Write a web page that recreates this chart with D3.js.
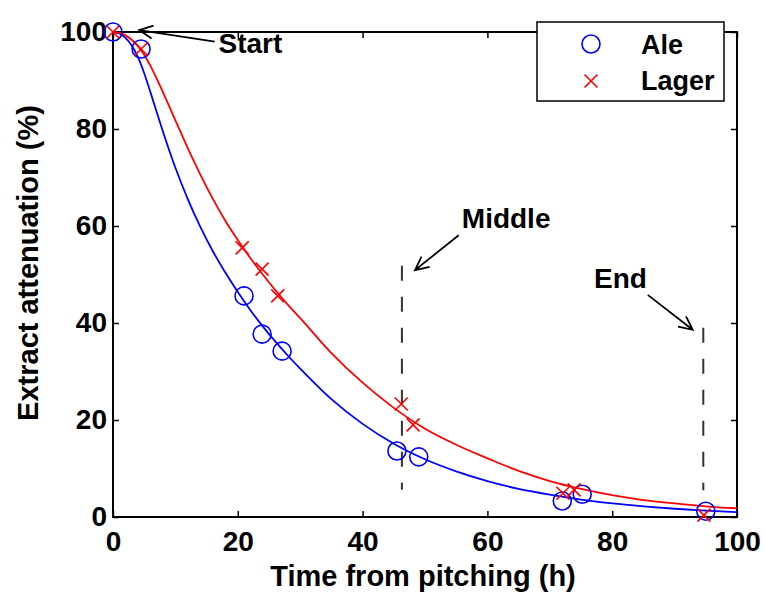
<!DOCTYPE html>
<html>
<head>
<meta charset="utf-8">
<script src="https://cdn.jsdelivr.net/npm/d3@7"></script>
<style>
  body { margin: 0; background: #fff; }
  text { font-family: "Liberation Sans", Arial, sans-serif; font-weight: bold; fill: #000; }
</style>
</head>
<body>
<svg id="chart" width="765" height="595"></svg>
<script>
// measured points
const aleTime = [0, 4.5, 21, 23.9, 27.1, 45.5, 49, 72, 75.2, 95];
const aleAtt = [100, 96.5, 45.6, 37.7, 34.2, 13.6, 12.4, 3.3, 4.7, 1.2];
const lagerTime = [0, 4.5, 20.7, 23.9, 26.4, 46.2, 48.1, 72.1, 73.9, 94.7];
const lagerAtt = [100, 96.5, 55.5, 51.1, 45.6, 23.3, 19, 4.9, 5.6, 0.4];

// fitted curves
const fitTime = [0, 1, 2, 3, 4, 5, 6, 7, 8, 10, 12, 14, 16, 18, 20, 22, 24, 26, 28, 30,
  35, 40, 45, 50, 55, 60, 65, 70, 75, 80, 85, 90, 95, 100];
const aleFit = [100, 99.7, 98.8, 97.2, 94.8, 91.5, 87.6, 83.5, 79.5, 72, 65.5, 59.8, 54.8, 50.4, 46.4, 42.7, 39.3, 36.2, 33.3, 30.6,
  24.3, 19.2, 15.1, 11.9, 9.4, 7.4, 5.8, 4.6, 3.6, 2.8, 2.2, 1.7, 1.3, 1.0];
const lagerFit = [100, 99.8, 99.3, 98.4, 97.1, 95.3, 93, 90.4, 87.6, 81.8, 76, 70.6, 65.6, 61.1, 57.1, 53.4, 50, 46.8, 43.8, 41,
  33.8, 27.7, 22.5, 18.2, 14.9, 12.1, 9.5, 7.4, 5.8, 4.5, 3.5, 2.8, 2.2, 1.8];

const xTicks = [0, 20, 40, 60, 80, 100];
const yTicks = [0, 20, 40, 60, 80, 100];

// annotations in data units
const notes = [
  { label: "Start", tx: 16.9, ty: 95.7, from: [16.3, 98], to: [4.2, 100.4] },
  { label: "Middle", tx: 55.9, ty: 59.5, from: [55.4, 58.1], to: [48.4, 50.9] },
  { label: "End", tx: 77.1, ty: 47.2, from: [85.7, 45.8], to: [92.9, 38.6] }
];
const markerLines = [
  { x: 46.3, y0: 51.8, y1: 5.6 },
  { x: 94.6, y0: 39, y1: 5.5 }
];

const svg = d3.select("#chart");
const pl = 113, pr = 737, pt = 32, pb = 517;

const x = d3.scaleLinear().domain([0, 100]).range([pl, pr]);
const y = d3.scaleLinear().domain([0, 100]).range([pb, pt]);

// axes with inward ticks
svg.append("g").attr("transform", `translate(0,${pb})`)
  .call(d3.axisBottom(x).tickValues(xTicks).tickSizeInner(-6).tickSizeOuter(0).tickPadding(14));
svg.append("g").attr("transform", `translate(${pl},0)`)
  .call(d3.axisLeft(y).tickValues(yTicks).tickSizeInner(-6).tickSizeOuter(0).tickPadding(6));
svg.append("g").attr("transform", `translate(0,${pt})`)
  .call(d3.axisTop(x).tickValues(xTicks).tickSizeInner(-6).tickSizeOuter(0).tickFormat(""));
svg.append("g").attr("transform", `translate(${pr},0)`)
  .call(d3.axisRight(y).tickValues(yTicks).tickSizeInner(-6).tickSizeOuter(0).tickFormat(""));

svg.selectAll(".domain").remove();
svg.selectAll(".tick line").attr("stroke", "#000").attr("stroke-width", 1.5);
svg.selectAll(".tick text").style("font-size", "28px").attr("fill", "#000");

svg.append("rect")
  .attr("x", pl).attr("y", pt)
  .attr("width", pr - pl).attr("height", pb - pt)
  .attr("fill", "none").attr("stroke", "#000").attr("stroke-width", 2);

// axis titles
svg.append("text")
  .attr("x", (pl + pr) / 2 - 2).attr("y", 586)
  .attr("text-anchor", "middle")
  .style("font-size", "29px")
  .text("Time from pitching (h)");
svg.append("text")
  .attr("transform", "translate(38,263) rotate(-90)")
  .attr("text-anchor", "middle")
  .style("font-size", "29px")
  .text("Extract attenuation (%)");

// fitted curves
const line = d3.line().curve(d3.curveMonotoneX);
svg.append("path")
  .attr("d", line(fitTime.map((t, i) => [x(t), y(aleFit[i])])))
  .attr("fill", "none").attr("stroke", "#0000ff").attr("stroke-width", 1.8);
svg.append("path")
  .attr("d", line(fitTime.map((t, i) => [x(t), y(lagerFit[i])])))
  .attr("fill", "none").attr("stroke", "#ff0000").attr("stroke-width", 1.8);

// dashed markers
svg.selectAll(".vline").data(markerLines).join("line")
  .attr("x1", d => x(d.x)).attr("x2", d => x(d.x))
  .attr("y1", d => y(d.y0)).attr("y2", d => y(d.y1))
  .attr("stroke", "#333").attr("stroke-width", 2)
  .attr("stroke-dasharray", "15,16");

// data points
svg.selectAll(".ale").data(aleTime).join("circle")
  .attr("cx", d => x(d)).attr("cy", (d, i) => y(aleAtt[i])).attr("r", 9)
  .attr("fill", "none").attr("stroke", "#0000ff").attr("stroke-width", 1.6);

const cross = (cx, cy, s) => `M${cx - s},${cy - s}L${cx + s},${cy + s}M${cx - s},${cy + s}L${cx + s},${cy - s}`;
svg.selectAll(".lager").data(lagerTime).join("path")
  .attr("d", (d, i) => cross(x(d), y(lagerAtt[i]), 6.5))
  .attr("fill", "none").attr("stroke", "#ff0000").attr("stroke-width", 1.6);

// annotations with open arrow heads
const arrow = (a, b) => {
  const x1 = x(a[0]), y1 = y(a[1]), x2 = x(b[0]), y2 = y(b[1]);
  const ang = Math.atan2(y2 - y1, x2 - x1), len = 15, spread = 0.45;
  const h1 = [x2 - len * Math.cos(ang - spread), y2 - len * Math.sin(ang - spread)];
  const h2 = [x2 - len * Math.cos(ang + spread), y2 - len * Math.sin(ang + spread)];
  return `M${x1},${y1}L${x2},${y2}M${h1[0]},${h1[1]}L${x2},${y2}L${h2[0]},${h2[1]}`;
};
svg.selectAll(".arrow").data(notes).join("path")
  .attr("d", d => arrow(d.from, d.to))
  .attr("fill", "none").attr("stroke", "#000").attr("stroke-width", 1.8);
svg.selectAll(".note").data(notes).join("text")
  .attr("x", d => x(d.tx)).attr("y", d => y(d.ty))
  .style("font-size", "28px")
  .text(d => d.label);

// legend
const legend = svg.append("g");
legend.append("rect")
  .attr("x", 537).attr("y", 22).attr("width", 187).attr("height", 79)
  .attr("fill", "#fff").attr("stroke", "#000").attr("stroke-width", 1.5);
legend.append("circle").attr("cx", 591).attr("cy", 44).attr("r", 9)
  .attr("fill", "none").attr("stroke", "#0000ff").attr("stroke-width", 1.6);
legend.append("path").attr("d", cross(591, 81, 6.5))
  .attr("fill", "none").attr("stroke", "#ff0000").attr("stroke-width", 1.6);
legend.append("text").attr("x", 641).attr("y", 54).style("font-size", "27px").text("Ale");
legend.append("text").attr("x", 641).attr("y", 90).style("font-size", "27px").text("Lager");
</script>
</body>
</html>
